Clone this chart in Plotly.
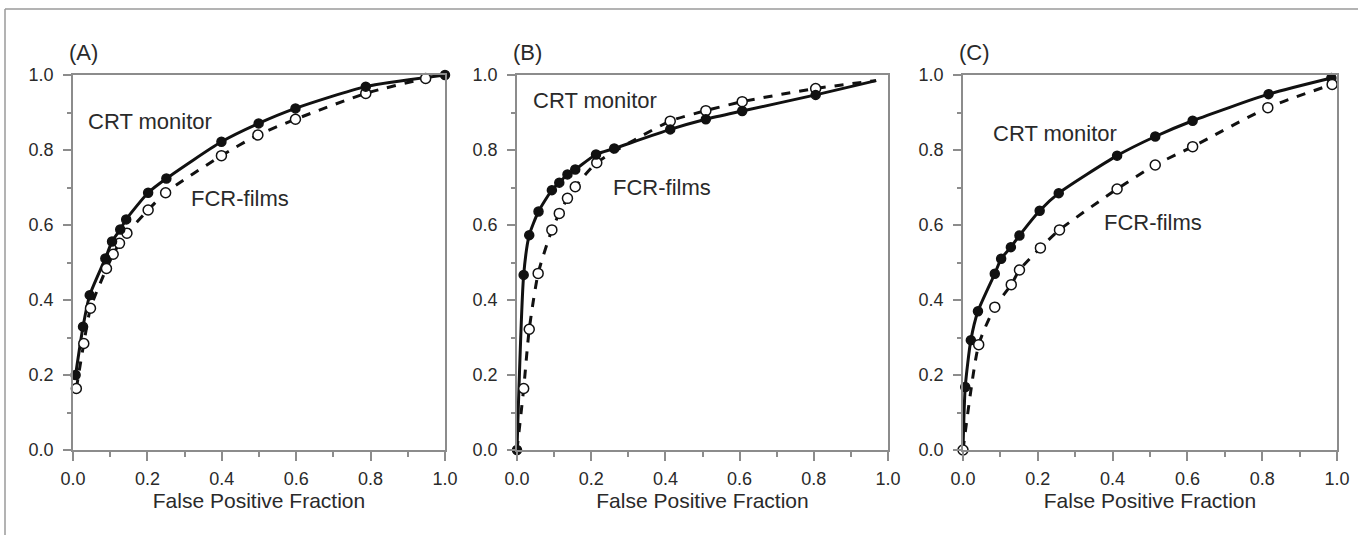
import plotly.graph_objects as go

# ---------------- data ----------------
panel_labels = ["(A)", "(B)", "(C)"]
x_title = "False Positive Fraction"
series_names = ["CRT monitor", "FCR-films"]
tick_vals = [0.0, 0.2, 0.4, 0.6, 0.8, 1.0]
minor_vals = [0.1, 0.3, 0.5, 0.7, 0.9]

# Panel A
a_crt_x = [0.007, 0.027, 0.045, 0.087, 0.105, 0.127, 0.143, 0.202, 0.251, 0.399, 0.499, 0.598, 0.787, 1.0]
a_crt_y = [0.200, 0.329, 0.413, 0.511, 0.556, 0.588, 0.615, 0.686, 0.724, 0.822, 0.871, 0.911, 0.969, 1.0]
a_fcr_x = [0.009, 0.029, 0.047, 0.090, 0.108, 0.125, 0.145, 0.202, 0.249, 0.399, 0.497, 0.598, 0.787, 0.948]
a_fcr_y = [0.164, 0.284, 0.378, 0.484, 0.522, 0.551, 0.578, 0.640, 0.686, 0.785, 0.840, 0.882, 0.951, 0.991]
a_fcr_end = (1.0, 1.0)

# Panel B
b_crt_x = [0.0, 0.018, 0.033, 0.058, 0.094, 0.114, 0.136, 0.157, 0.213, 0.262, 0.413, 0.509, 0.607, 0.805]
b_crt_y = [0.0, 0.467, 0.573, 0.636, 0.693, 0.713, 0.735, 0.748, 0.788, 0.804, 0.855, 0.882, 0.904, 0.947]
b_crt_end = (0.968, 0.985)
b_fcr_start = (0.0, 0.0)
b_fcr_x = [0.018, 0.033, 0.057, 0.094, 0.114, 0.136, 0.157, 0.215, 0.413, 0.509, 0.607, 0.805]
b_fcr_y = [0.164, 0.322, 0.471, 0.587, 0.631, 0.671, 0.702, 0.766, 0.877, 0.905, 0.929, 0.964]
b_fcr_end = (0.968, 0.985)

# Panel C
c_crt_start = (0.0, 0.0)
c_crt_x = [0.006, 0.021, 0.040, 0.085, 0.102, 0.128, 0.151, 0.205, 0.256, 0.412, 0.514, 0.614, 0.817, 0.985]
c_crt_y = [0.168, 0.293, 0.370, 0.470, 0.510, 0.541, 0.572, 0.638, 0.685, 0.785, 0.836, 0.878, 0.949, 0.992]
c_fcr_x = [0.0, 0.042, 0.085, 0.129, 0.151, 0.207, 0.258, 0.412, 0.514, 0.614, 0.815, 0.987]
c_fcr_y = [0.0, 0.281, 0.381, 0.441, 0.480, 0.539, 0.587, 0.696, 0.760, 0.809, 0.913, 0.975]

# label positions (data coords) for the series names
label_pos = {
    1: [(0.207, 0.877), (0.449, 0.672)],
    2: [(0.21, 0.933), (0.39, 0.699)],
    3: [(0.246, 0.845), (0.508, 0.608)],
}

# ---------------- figure ----------------
W, H = 1358, 535
FONT = "Liberation Sans, Arial, Helvetica, sans-serif"
AXC = "#8c8c8c"
TXT = "#2a2a2a"

fig = go.Figure()

def add_series(n, xs, ys, filled, start=None, end=None):
    lx = ([start[0]] if start else []) + list(xs) + ([end[0]] if end else [])
    ly = ([start[1]] if start else []) + list(ys) + ([end[1]] if end else [])
    xa = "x" if n == 1 else f"x{n}"
    ya = "y" if n == 1 else f"y{n}"
    fig.add_trace(go.Scatter(
        x=lx, y=ly, mode="lines", xaxis=xa, yaxis=ya,
        line=dict(color="#111111", width=3, dash="solid" if filled else "dash",
                  shape="spline", smoothing=0.6),
        cliponaxis=False, showlegend=False, hoverinfo="skip"))
    return (xs, ys, filled, xa, ya)

def add_markers(spec):
    xs, ys, filled, xa, ya = spec
    fig.add_trace(go.Scatter(
        x=xs, y=ys, mode="markers", xaxis=xa, yaxis=ya,
        marker=dict(symbol="circle", size=9 if filled else 10,
                    color="#111111" if filled else "white",
                    line=dict(color="#111111", width=1.5)),
        cliponaxis=False, showlegend=False))

# Panel A
sa1 = add_series(1, a_crt_x, a_crt_y, True)
sa2 = add_series(1, a_fcr_x, a_fcr_y, False, end=a_fcr_end)
add_markers(sa2); add_markers(sa1)
# Panel B
sb1 = add_series(2, b_crt_x, b_crt_y, True, end=b_crt_end)
sb2 = add_series(2, b_fcr_x, b_fcr_y, False, start=b_fcr_start, end=b_fcr_end)
add_markers(sb2); add_markers(sb1)
# Panel C
sc1 = add_series(3, c_crt_x, c_crt_y, True, start=c_crt_start)
sc2 = add_series(3, c_fcr_x, c_fcr_y, False)
add_markers(sc1); add_markers(sc2)

x_px = [(73, 445), (517, 888), (963, 1337)]
y_dom = [1 - 450 / H, 1 - 75 / H]

layout = dict(
    width=W, height=H, margin=dict(l=0, r=0, t=0, b=0, autoexpand=False),
    paper_bgcolor="white", plot_bgcolor="white",
    font=dict(family=FONT, color=TXT, size=18),
    showlegend=False,
)
for i, (x0, x1) in enumerate(x_px, start=1):
    sx = "" if i == 1 else str(i)
    layout[f"xaxis{sx}"] = dict(
        domain=[x0 / W, x1 / W], range=[0, 1], anchor=f"y{sx}", automargin=False,
        showline=True, mirror=True, linecolor=AXC, linewidth=1.5,
        showgrid=False, zeroline=False,
        ticks="outside", ticklen=9, tickwidth=1.5, tickcolor=AXC,
        tickvals=tick_vals, tickformat=".1f", ticklabelstandoff=3,
        minor=dict(ticks="outside", ticklen=5, tickwidth=1.5, tickcolor=AXC,
                   tickvals=minor_vals, showgrid=False),
        tickfont=dict(size=18, color=TXT),
        title=dict(text=x_title, font=dict(size=21, color=TXT), standoff=2),
    )
    layout[f"yaxis{sx}"] = dict(
        domain=y_dom, range=[0, 1], anchor=f"x{sx}", automargin=False,
        showline=True, mirror=True, linecolor=AXC, linewidth=1.5,
        showgrid=False, zeroline=False,
        ticks="outside", ticklen=8, tickwidth=1.5, tickcolor=AXC,
        tickvals=tick_vals, tickformat=".1f", ticklabelstandoff=6,
        minor=dict(ticks="outside", ticklen=4, tickwidth=1.5, tickcolor=AXC,
                   tickvals=minor_vals, showgrid=False),
        tickfont=dict(size=18, color=TXT),
    )
fig.update_layout(**layout)

annotations = []
for i, ((x0, x1), lab) in enumerate(zip(x_px, panel_labels), start=1):
    annotations.append(dict(text=lab, xref="paper", yref="paper",
                            x=(x0 - 6) / W, y=1 - 53 / H, xanchor="left", yanchor="middle",
                            showarrow=False, font=dict(size=22, color=TXT)))
    sx = "" if i == 1 else str(i)
    for name, (tx, ty) in zip(series_names, label_pos[i]):
        annotations.append(dict(text=name, xref=f"x{sx}", yref=f"y{sx}", x=tx, y=ty,
                                xanchor="center", yanchor="middle", showarrow=False,
                                font=dict(size=22, color=TXT)))
fig.update_layout(annotations=annotations)

# outer frame (top and left edges of the scanned figure box)
fig.add_shape(type="line", xref="paper", yref="paper", x0=5 / W, x1=1, y0=1 - 9 / H, y1=1 - 9 / H,
              line=dict(color="#9a9a9a", width=1.5))
fig.add_shape(type="line", xref="paper", yref="paper", x0=5 / W, x1=5 / W, y0=0, y1=1 - 9 / H,
              line=dict(color="#9a9a9a", width=1.5))

fig.write_html("out.html", config={"displayModeBar": False},
               post_script="document.body.style.margin='0px';")
